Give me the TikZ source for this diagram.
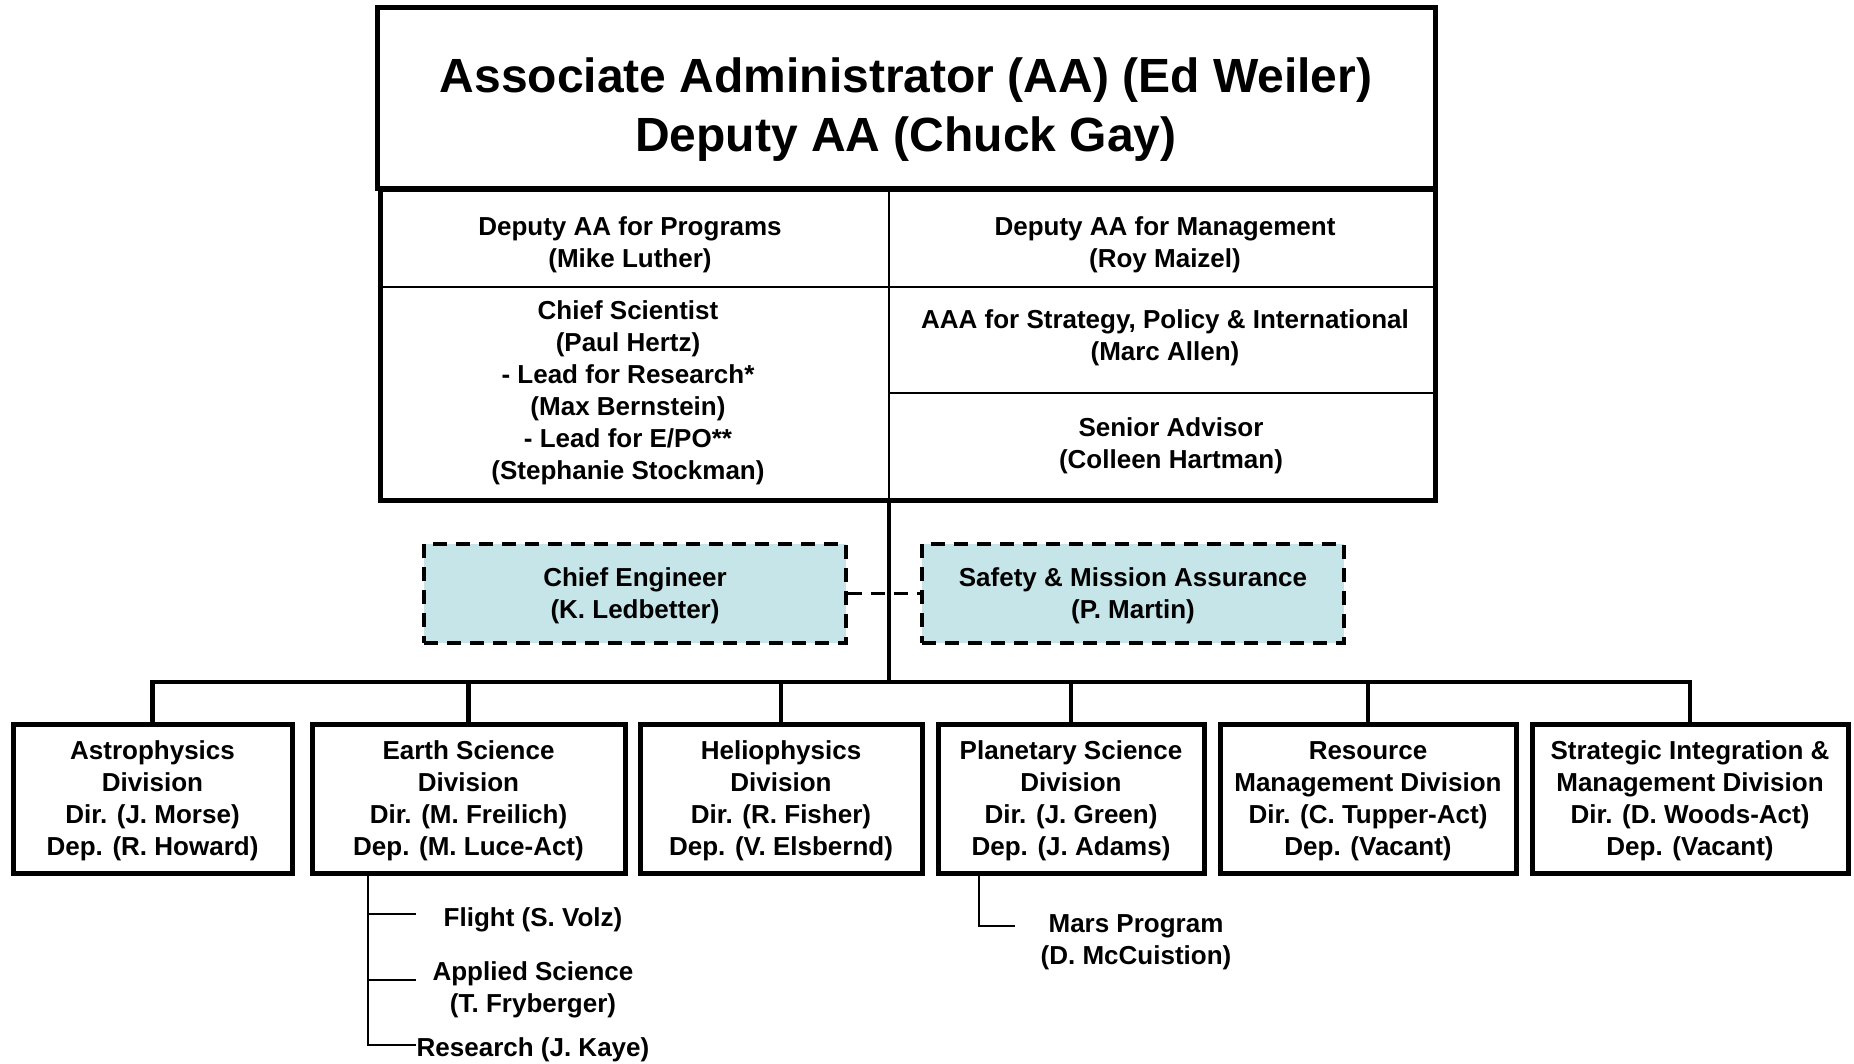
\documentclass[tikz,border=0pt]{standalone}
\usepackage{fontspec}
\setmainfont{Liberation Sans}
\usepackage{tikz}
\usetikzlibrary{positioning,calc}
\definecolor{orgcyan}{RGB}{197,229,232}
\tikzset{
  orgtext/.style={font=\fontsize{26}{32}\selectfont\bfseries, align=center, inner sep=0pt,
    text depth=0pt},
  orgtitle/.style={draw, line width=5pt, align=center, font=\fontsize{48}{59}\selectfont\bfseries,
    text height=106pt, text depth=0pt},
  orgpanel/.style={draw, line width=5pt},
  orgdiv/.style={draw, line width=5pt, orgtext},
  orgdash/.style={draw, line width=3.5pt, dash pattern=on 14pt off 9pt, fill=orgcyan, orgtext},
  orgline/.style={line width=4.5pt},
  orgdline/.style={line width=3.5pt, dash pattern=on 14pt off 9pt},
  orgrule/.style={line width=2pt},
}

\begin{document}
\begin{tikzpicture}[x=1pt, y=-1pt]
  \useasboundingbox (0,0) rectangle (1854,1064);

  \node[orgtitle, minimum width=1058pt, minimum height=181pt] (aa) at (906,98.5)
    {Associate Administrator (AA) (Ed Weiler)\\Deputy AA (Chuck Gay)};
  \node[orgpanel, minimum width=1055pt, minimum height=310pt] (staff) at (907.5,345) {};
  \coordinate (split) at (889,0);
  \coordinate (row1) at (0,287);
  \coordinate (row2) at (0,393);
  \draw[orgrule] (staff.north -| split) -- (staff.south -| split);
  \draw[orgrule] (staff.west |- row1) -- (split |- row1);
  \draw[orgrule] (split |- row1) -- (staff.east |- row1)
                 (split |- row2) -- (staff.east |- row2);

  \node[orgtext] (prog) at (630,242) {Deputy AA for Programs\\(Mike Luther)};
  \node[orgtext] (mgmt) at (1165,242) {Deputy AA for Management\\(Roy Maizel)};
  \node[orgtext] (chsci) at (628,390)
    {Chief Scientist\\(Paul Hertz)\\- Lead for Research*\\(Max Bernstein)\\- Lead for E/PO**\\(Stephanie Stockman)};
  \node[orgtext] (strat) at (1165,335) {AAA for Strategy, Policy \& International\\(Marc Allen)};
  \node[orgtext] (senior) at (1171,443) {Senior Advisor\\(Colleen Hartman)};

  \node[orgdash, minimum width=422pt, minimum height=99pt] (ce) at (635,593.5)
    {Chief Engineer\\(K. Ledbetter)};
  \node[orgdash, minimum width=422pt, minimum height=99pt] (sma) at (1133,593.5)
    {Safety \& Mission Assurance\\(P. Martin)};

  \coordinate (hub) at (889,682);
  \draw[orgline] (staff.south -| split) -- (hub);
  \draw[orgdline] (ce) -- (sma);

  \node[orgdiv, minimum width=279pt, minimum height=149pt] (astro) at (152.5,798.5)
    {Astrophysics\\Division\\Dir. (J. Morse)\\Dep. (R. Howard)};
  \node[orgdiv, minimum width=313pt, minimum height=149pt] (earth) at (468.5,798.5)
    {Earth Science\\Division\\Dir. (M. Freilich)\\Dep. (M. Luce-Act)};
  \node[orgdiv, minimum width=282pt, minimum height=149pt] (helio) at (781,798.5)
    {Heliophysics\\Division\\Dir. (R. Fisher)\\Dep. (V. Elsbernd)};
  \node[orgdiv, minimum width=266pt, minimum height=149pt] (planet) at (1071,798.5)
    {Planetary Science\\Division\\Dir. (J. Green)\\Dep. (J. Adams)};
  \node[orgdiv, minimum width=296pt, minimum height=149pt] (resmgmt) at (1368,798.5)
    {Resource\\Management Division\\Dir. (C. Tupper-Act)\\Dep. (Vacant)};
  \node[orgdiv, minimum width=316pt, minimum height=149pt] (simd) at (1690,798.5)
    {Strategic Integration \&\\Management Division\\Dir. (D. Woods-Act)\\Dep. (Vacant)};

  \draw[orgline] (astro.north) -- (astro |- hub) -- (simd |- hub) -- (simd.north);
  \draw[orgline] (earth |- hub) -- (earth.north)
                 (helio |- hub) -- (helio.north)
                 (planet |- hub) -- (planet.north)
                 (resmgmt |- hub) -- (resmgmt.north);

  \node[orgtext] (flight) at (533,917) {Flight (S. Volz)};
  \node[orgtext] (applied) at (533,987) {Applied Science\\(T. Fryberger)};
  \node[orgtext] (research) at (533,1047) {Research (J. Kaye)};
  \coordinate (esub) at (368,0);
  \draw[orgrule] (earth.south -| esub) -- ($(esub |- research.west)+(0,-2)$) -- +(48,0);
  \draw[orgrule] ($(esub |- flight.west)+(0,-3)$) -- +(48,0);
  \draw[orgrule] ($(esub |- applied.west)+(0,-7)$) -- +(48,0);

  \node[orgtext] (mars) at (1136,940) {Mars Program\\(D. McCuistion)};
  \coordinate (psub) at (979,0);
  \draw[orgrule] (planet.south -| psub) -- ($(psub |- mars.west)+(0,-14)$) -- +(36,0);
\end{tikzpicture}
\end{document}
